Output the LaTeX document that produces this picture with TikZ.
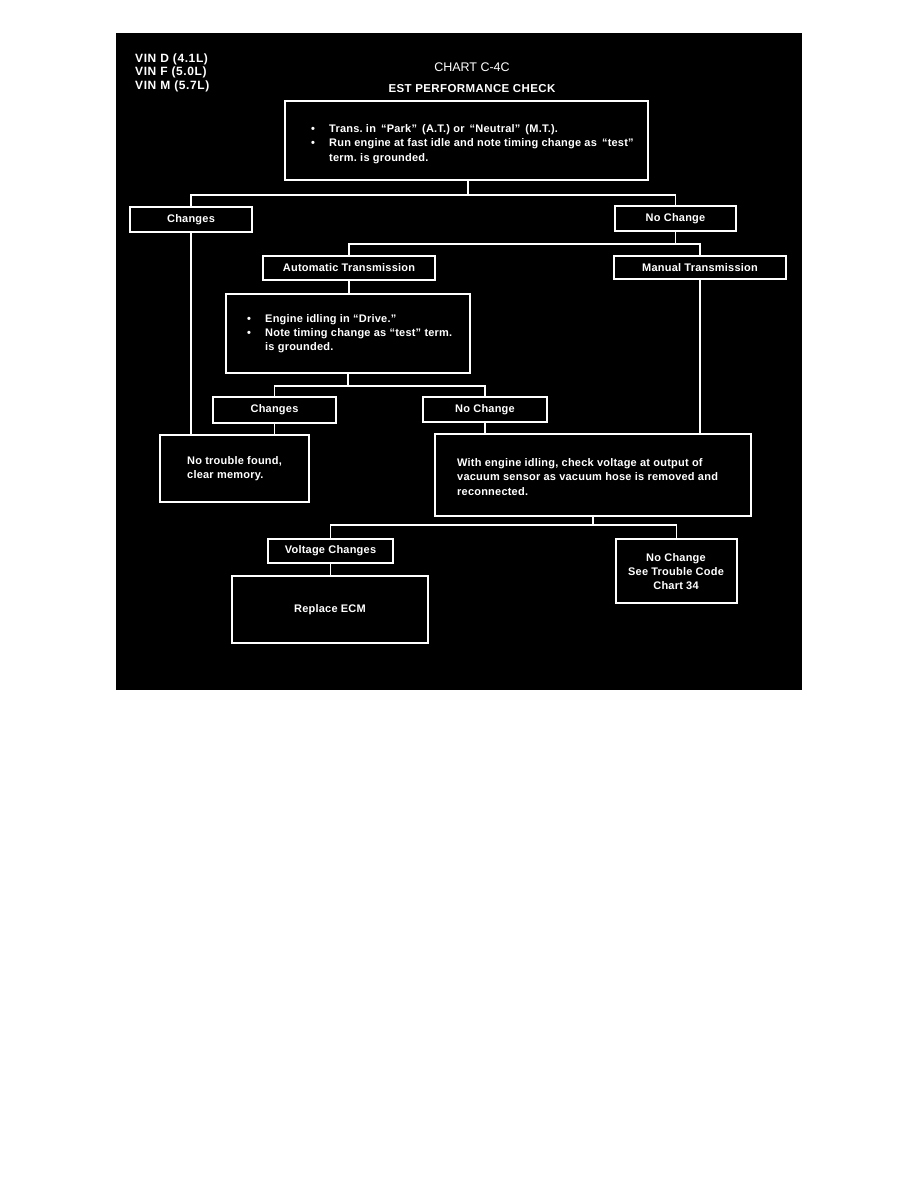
\documentclass[tikz,border=0pt]{standalone}
\usepackage{fontspec}
\setmainfont{Liberation Sans}
\newfontfamily\boxfam[LetterSpace=2]{Liberation Sans}
\newfontfamily\vinfam[LetterSpace=5]{Liberation Sans}
\newfontfamily\subfam[LetterSpace=3.5]{Liberation Sans}
\newcommand\boxfont{\boxfam\fontsize{11}{14.3}\selectfont\bfseries}
\newcommand\bul{\makebox[18pt][l]{\textbullet}}
\newcommand\bulgap{\hspace*{18pt}}
\frenchspacing
\begin{document}
\begin{tikzpicture}[x=1pt,y=-1pt,
  box/.style={draw=white, line width=1.2pt, rectangle, inner sep=0pt, text=white, font=\boxfont},
  txt/.style={inner sep=0pt, text=white, font=\boxfont, align=left},
  ctxt/.style={inner sep=0pt, text=white, font=\boxfont, align=center},
  conn/.style={draw=white, line width=1.2pt}]
\useasboundingbox (0,0) rectangle (918,1188);
\fill[black] (116,33) rectangle (802,690);

% header texts
\node[inner sep=0pt, text=white, font=\vinfam\fontsize{12}{13.6}\selectfont\bfseries, align=left, anchor=west] (vin) at (135,72.5) {VIN D (4.1L)\\VIN F (5.0L)\\VIN M (5.7L)};
\node[inner sep=0pt, text=white, font=\fontsize{12.5}{14}\selectfont] (title) at (472,67) {CHART C-4C};
\node[inner sep=0pt, text=white, font=\subfam\fontsize{11.5}{14}\selectfont\bfseries] (subtitle) at (472,88.5) {EST PERFORMANCE CHECK};

% boxes
\node[box, minimum width=363pt, minimum height=79pt] (top) at (466.5,140.5) {};
\node[txt, anchor=west] (toptxt) at (311,144) {\bul Trans. in \,“Park”\, (A.T.) or \,“Neutral”\, (M.T.).\\\bul Run engine at fast idle and note timing change as \,“test”\\\bulgap term. is grounded.};

\node[box, minimum width=122pt, minimum height=25pt] (chg1) at (191,219.5) {Changes};
\node[box, minimum width=121pt, minimum height=25pt] (nc1) at (675.5,218.5) {No Change};
\node[box, minimum width=172pt, minimum height=24pt] (auto) at (349,268) {Automatic Transmission};
\node[box, minimum width=172pt, minimum height=23pt] (man) at (700,267.5) {Manual Transmission};

\node[box, minimum width=244pt, minimum height=79pt] (drive) at (348,333.5) {};
\node[txt, anchor=west] (drivetxt) at (247,333.5) {\bul Engine idling in “Drive.”\\\bul Note timing change as “test” term.\\\bulgap is grounded.};

\node[box, minimum width=123pt, minimum height=26pt] (chg2) at (274.5,410) {Changes};
\node[box, minimum width=124pt, minimum height=25pt] (nc2) at (485,409.5) {No Change};

\node[box, minimum width=149pt, minimum height=67pt] (notr) at (234.5,468.5) {};
\node[txt, anchor=west] (notrtxt) at (187,469) {No trouble found,\\clear memory.};

\node[box, minimum width=316pt, minimum height=82pt] (vac) at (593,475) {};
\node[txt, anchor=west] (vactxt) at (457,477) {With engine idling, check voltage at output of\\vacuum sensor as vacuum hose is removed and\\reconnected.};

\node[box, minimum width=125pt, minimum height=24pt] (volt) at (330.5,551) {Voltage Changes};
\node[box, minimum width=196pt, minimum height=67pt] (rep) at (330,609.5) {Replace ECM};
\node[box, minimum width=121pt, minimum height=64pt] (nc3) at (676.5,571) {};
\node[ctxt] (nc3txt) at (676,571.5) {No Change\\See Trouble Code\\Chart 34};

% junctions
\coordinate (j1) at (468,195);
\coordinate (j2) at (675.5,244);
\coordinate (j3) at (348,386);
\coordinate (j4) at (593,525);

% connectors
\draw[conn] (j1 |- top.south) -- (j1);
\draw[conn] (chg1.north) |- (j1) -| (nc1.north);
\draw[conn] (chg1.south) -- (chg1.south |- notr.north);
\draw[conn] (nc1.south) -- (j2);
\draw[conn] (auto.north) |- (j2) -| (man.north);
\draw[conn] (auto.south) -- (auto.south |- drive.north);
\draw[conn] (drive.south) -- (j3);
\draw[conn] (chg2.north) |- (j3) -| (nc2.north);
\draw[conn] (chg2.south) -- (chg2.south |- notr.north);
\draw[conn] (nc2.south) -- (nc2.south |- vac.north);
\draw[conn] (man.south) -- (man.south |- vac.north);
\draw[conn] (vac.south) -- (j4);
\draw[conn] (volt.north) |- (j4) -| (nc3.north);
\draw[conn] (volt.south) -- (volt.south |- rep.north);
\end{tikzpicture}
\end{document}
